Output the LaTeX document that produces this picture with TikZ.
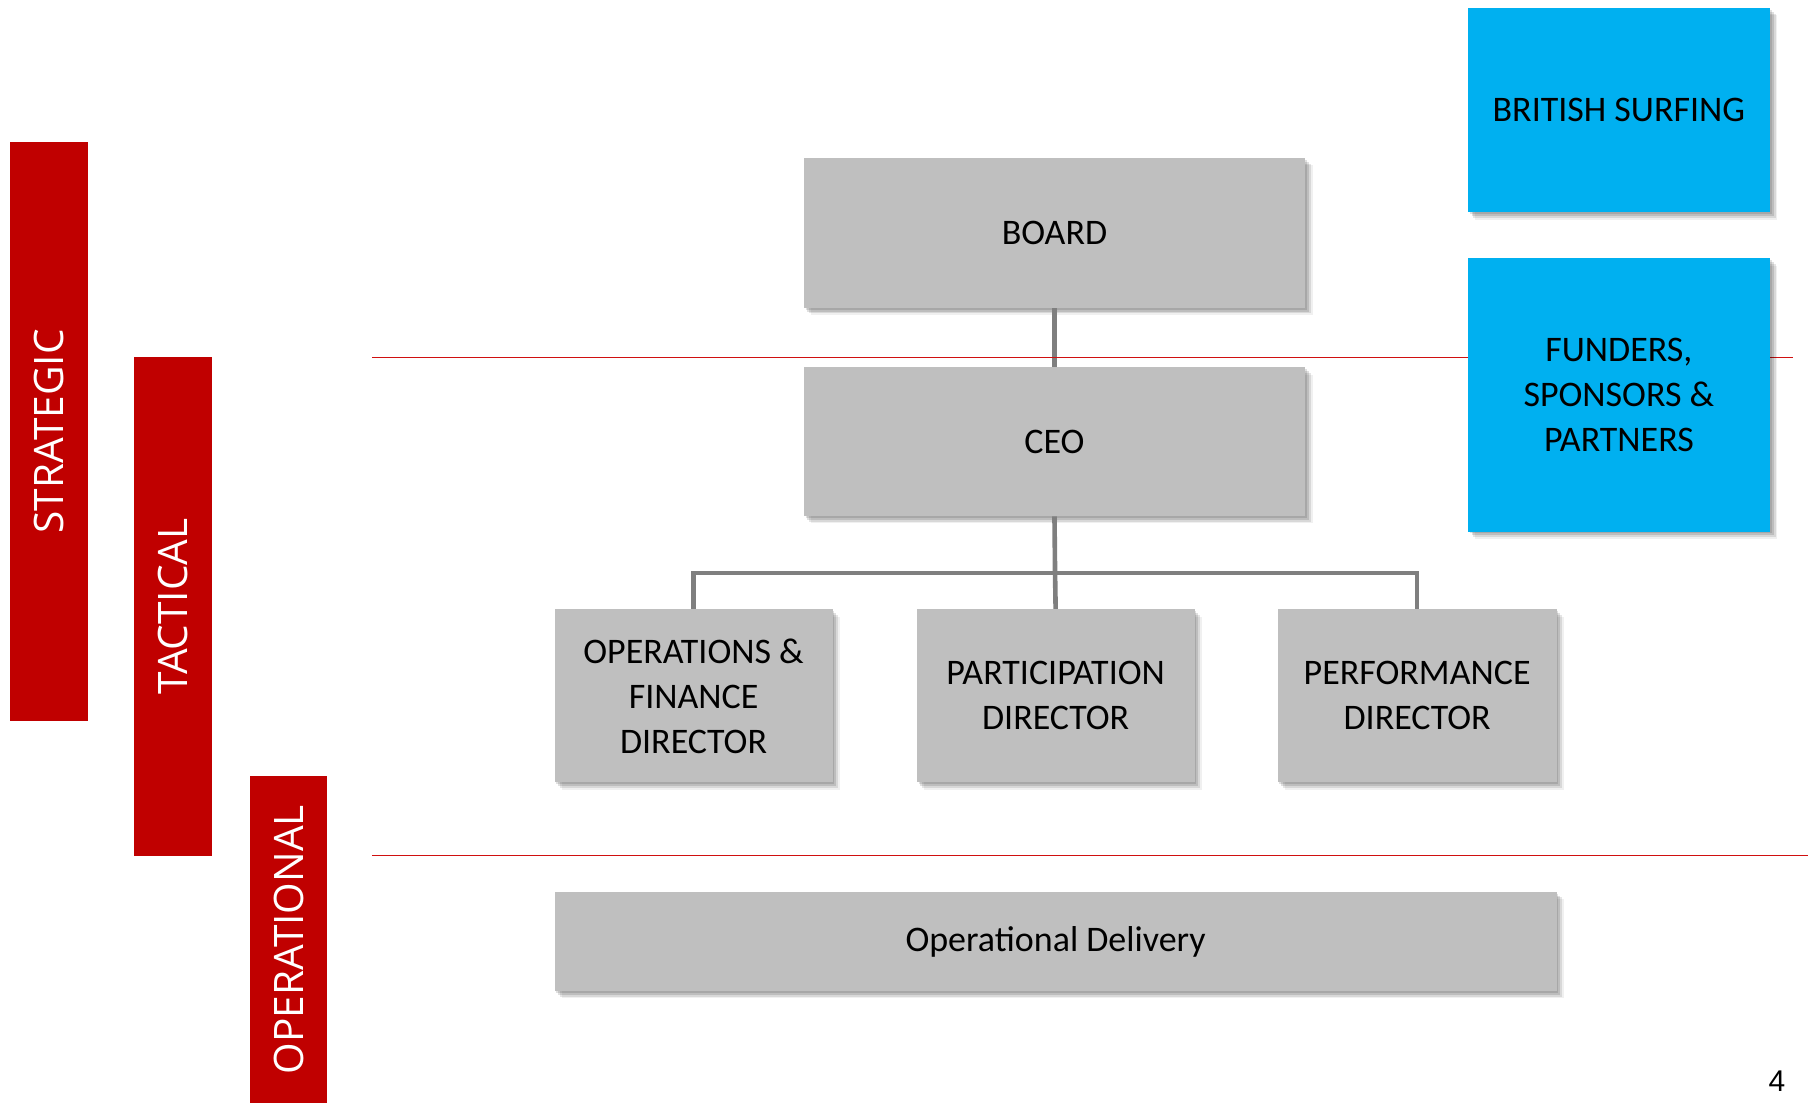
\documentclass[tikz,border=0pt]{standalone}
\usepackage{fontspec}
\setmainfont{Carlito}
\newfontfamily\barfont{Open Sans}
\newfontfamily\numfont{Liberation Sans}
\usetikzlibrary{shadows}
\definecolor{boxgray}{HTML}{BFBFBF}
\definecolor{barred}{HTML}{C00000}
\definecolor{skyblue}{HTML}{00B0F0}
\definecolor{conngray}{HTML}{7F7F7F}
\definecolor{linered}{HTML}{D01010}
\tikzset{
  shd/.style={
    drop shadow={shadow xshift=0.8pt, shadow yshift=-0.8pt, fill=black, opacity=0.12},
    drop shadow={shadow xshift=1.6pt, shadow yshift=-1.6pt, fill=black, opacity=0.12},
    drop shadow={shadow xshift=2.4pt, shadow yshift=-2.4pt, fill=black, opacity=0.10},
    drop shadow={shadow xshift=3.2pt, shadow yshift=-3.2pt, fill=black, opacity=0.06}},
  graybox/.style={shd, fill=boxgray, draw=none, align=center, inner sep=0pt,
    font=\fontsize{15.6}{19.5}\selectfont, text=black},
  bluebox/.style={shd, fill=skyblue, draw=none, align=center, inner sep=0pt,
    font=\fontsize{15.6}{19.5}\selectfont, text=black},
  levelbar/.style={fill=barred, draw=none, inner sep=0pt},
  leveltext/.style={rotate=90, text=white, font=\barfont\fontsize{17.6}{20}\selectfont},
  conn/.style={draw=conngray, line width=2pt},
  redline/.style={draw=linered, line width=0.7pt},
}
\begin{document}
\begin{tikzpicture}[x=0.5pt, y=-0.5pt]
\useasboundingbox (0,0) rectangle (1568,957);
% level bars
\node[levelbar, minimum width=33.5pt, minimum height=251pt] (strat) at (42.5,374) {};
\node[leveltext] (strattext) at (strat.center) {STRATEGIC};
\node[levelbar, minimum width=34pt, minimum height=216pt] (tact) at (150,526) {};
\node[leveltext] (tacttext) at (tact.center) {TACTICAL};
\node[levelbar, minimum width=33.5pt, minimum height=142pt] (oper) at (250.5,815) {};
\node[leveltext] (opertext) at (oper.center) {OPERATIONAL};
% gray boxes
\node[graybox, minimum width=217.5pt, minimum height=65pt] (board) at (914.5,202) {BOARD};
\node[graybox, minimum width=217.5pt, minimum height=64.5pt] (ceo) at (914.5,383) {CEO};
\node[graybox, minimum width=120.5pt, minimum height=75pt] (ops) at (601.5,603.5) {OPERATIONS \&\\FINANCE\\DIRECTOR};
\node[graybox, minimum width=120.5pt, minimum height=75pt] (part) at (915.5,603.5) {PARTICIPATION\\DIRECTOR};
\node[graybox, minimum width=121pt, minimum height=75pt] (perf) at (1229,603.5) {PERFORMANCE\\DIRECTOR};
\node[graybox, minimum width=434.5pt, minimum height=43pt] (deliv) at (915.5,816.5) {Operational Delivery};
% connectors
\coordinate (j) at (915,497);
\draw[conn] (board.south) -- (ceo.north);
\draw[conn] (ceo.south) -- (j);
\draw[conn] (j) -- (part.north);
\draw[conn] (ops.north) |- (j) -| (perf.north);
% red separator lines
\coordinate (l1a) at (323,310);
\coordinate (l1b) at (1555,310);
\coordinate (l2a) at (323,742);
\coordinate (l2b) at (1568,742);
\draw[redline] (l1a) -- (l1b);
\draw[redline] (l2a) -- (l2b);
% blue boxes
\node[bluebox, minimum width=131pt, minimum height=88.5pt] (bs) at (1404,95.5) {BRITISH SURFING};
\node[bluebox, minimum width=131pt, minimum height=118.5pt] (fund) at (1404,342.5) {FUNDERS,\\SPONSORS \&\\PARTNERS};
% page number
\node[font=\numfont\fontsize{13}{15}\selectfont, inner sep=0pt] (pnum) at (1541,938) {4};
\end{tikzpicture}
\end{document}
